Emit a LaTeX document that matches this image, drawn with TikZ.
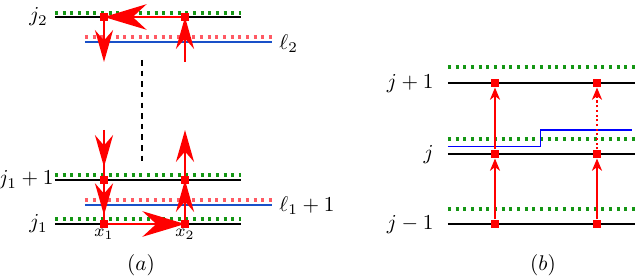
\documentclass[tikz,border=0pt]{standalone}
\usetikzlibrary{arrows.meta,decorations.markings}
\definecolor{lvlgreen}{RGB}{20,150,20}
\definecolor{lvlblue}{RGB}{25,80,200}
\definecolor{lvlpink}{RGB}{255,90,100}
\begin{document}
\begin{tikzpicture}[x=0.47pt,y=-0.47pt,
  level/.style={line width=1.35pt,black},
  gdots/.style={lvlgreen,line width=1.45pt,dash pattern=on 1.45pt off 2.15pt},
  pdots/.style={lvlpink,line width=1.45pt,dash pattern=on 1.45pt off 2.15pt},
  bline/.style={lvlblue,line width=1.35pt},
  sq/.style={fill=red,inner sep=0pt,minimum size=3.9pt},
  redline/.style={red,line width=1pt},
  harr/.style={redline,-{Stealth[length=20pt,width=12pt]}},
  varr/.style={redline,-{Stealth[length=15pt,width=8.5pt]}},
  midvarr/.style={redline,postaction={decorate},decoration={markings,mark=at position #1 with {\arrow{Stealth[length=15pt,width=8.5pt]}}}},
  thinarr/.style={red,line width=0.5pt,-{Stealth[length=5.8pt,width=4.8pt,inset=1.8pt]}},
  lab/.style={inner sep=0pt},
]
\useasboundingbox (0,0) rectangle (635,277);

% ---------- panel (a) ----------
\draw[gdots] (55,13) -- (241,13);
\draw[level] (55,17) -- (241,17);
\draw[pdots] (85,37) -- (272,37);
\draw[bline] (85,42) -- (272,42);

\draw[gdots] (55,175) -- (241,175);
\draw[level] (55,180) -- (241,180);
\draw[pdots] (85,200) -- (272,200);
\draw[bline] (85,205) -- (272,205);
\draw[gdots] (55,219) -- (241,219);
\draw[level] (55,224) -- (241,224);

\node[lab,anchor=east] (lj2) at (48,17) {$j_2$};
\node[lab,anchor=west] (ll2) at (279,44) {$\ell_2$};
\node[lab,anchor=east] (lj1p) at (54,180) {$j_1+1$};
\node[lab,anchor=west] (ll1) at (279,206) {$\ell_1+1$};
\node[lab,anchor=east] (lj1) at (48,224) {$j_1$};

\node[sq] (a1) at (104,17) {};
\node[sq] (a2) at (185,17) {};
\node[sq] (b1) at (104,180) {};
\node[sq] (b2) at (185,180) {};
\node[sq] (c1) at (104,224) {};
\node[sq] (c2) at (185,224) {};

\coordinate (d1) at (104,62);
\coordinate (d2) at (185,62);
\coordinate (u1) at (104,130);
\coordinate (u2) at (185,130);
\coordinate (dt) at (142,60);
\coordinate (db) at (142,162);

\draw[harr] (a2.center) -- (a1.center);
\draw[varr] (a1.center) -- (d1);
\draw[varr] (d2) -- (a2.center);
\draw[black,line width=0.6pt,dash pattern=on 2.6pt off 2.4pt] (dt) -- (db);
\draw[midvarr=0.74] (u1) -- (b1.center);
\draw[midvarr=0.8] (b1.center) -- (c1.center);
\draw[varr] (c2.center) -- (b2.center);
\draw[varr] (b2.center) -- (u2);
\draw[harr] (c1.center) -- (c2.center);

\node[lab,anchor=north,font=\footnotesize] (x1) at ([yshift=-0.3pt]c1.south) {$x_1$};
\node[lab,anchor=north,font=\footnotesize] (x2) at ([yshift=-0.3pt]c2.south) {$x_2$};

\node (capa) at (141,265) {$(a)$};

% ---------- panel (b) ----------
\draw[gdots] (448,67) -- (635,67);
\draw[level] (448,83) -- (635,83);
\draw[gdots] (448,139) -- (635,139);
\draw[level] (448,154) -- (635,154);
\draw[gdots] (448,209) -- (635,209);
\draw[level] (448,224) -- (635,224);

\draw[blue,line width=0.7pt] (448,146.7) -- (540.7,146.7) -- (540.7,130) -- (632,130);

\node[lab,anchor=east] (ljp) at (434,84) {$j+1$};
\node[lab,anchor=east] (lj) at (434,155) {$j$};
\node[lab,anchor=east] (ljm) at (434,225) {$j-1$};

\node[sq] (p1) at (495,83) {};
\node[sq] (p2) at (597,83) {};
\node[sq] (q1) at (495,154) {};
\node[sq] (q2) at (597,154) {};
\node[sq] (r1) at (495,224) {};
\node[sq] (r2) at (597,224) {};

\draw[thinarr] (r1) -- (q1);
\draw[thinarr] (q1) -- (p1);
\draw[thinarr] (r2) -- (q2);
\draw[thinarr,dash pattern=on 1pt off 1.2pt] (q2) -- (p2);

\node (capb) at (543,265) {$(b)$};
\end{tikzpicture}
\end{document}
